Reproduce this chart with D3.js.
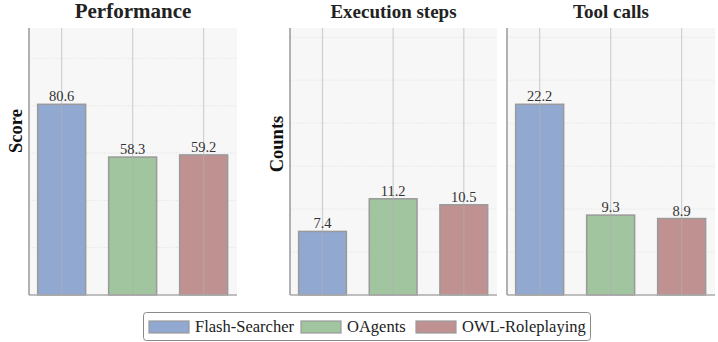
<!DOCTYPE html>
<html>
<head>
<meta charset="utf-8">
<script src="https://cdn.jsdelivr.net/npm/d3@7"></script>
<style>
    body { margin: 0; background: #fff; }
    svg { display: block; font-family: "Liberation Serif", "DejaVu Serif", serif; }
</style>
</head>
<body>
<svg id="chart" width="718" height="342"></svg>
<script>
    // data
    const agents = ['Flash-Searcher', 'OAgents', 'OWL-Roleplaying'];
    const colors = ['#91a8d1', '#a0c59f', '#c09191'];
    const panelTitles = ['Performance', 'Execution steps', 'Tool calls'];
    const yLabels = ['Score', 'Counts', null];
    const performance = [80.6, 58.3, 59.2];
    const execSteps = [7.4, 11.2, 10.5];
    const toolCalls = [22.2, 9.3, 8.9];
    const tickSteps = [20, 5, 5];

(function () {
    const series = [performance, execSteps, toolCalls];
    // execution steps and tool calls share one y axis
    const countsMax = d3.max(execSteps.concat(toolCalls)) * 1.4;
    const yMaxes = [d3.max(performance) * 1.4, countsMax, countsMax];

    const svg = d3.select('#chart');
    const plotTop = 28, plotBottom = 295;
    // left / right edge of every panel
    const panels = [[29, 237], [290, 497], [507, 715]];
    const titleSize = [21, 19, 19];
    const yLabelPos = [[16, 131], [277, 144]];

    series.forEach(function (values, p) {
        let x0 = panels[p][0], x1 = panels[p][1];
        let yMax = yMaxes[p];

        let x = d3.scaleLinear().domain([-0.46, 2.47]).range([x0, x1]);
        let y = d3.scaleLinear().domain([0, yMax]).range([plotBottom, plotTop]);

        let g = svg.append('g');

        g.append('rect')
            .attr('x', x0).attr('y', plotTop)
            .attr('width', x1 - x0).attr('height', plotBottom - plotTop)
            .attr('fill', '#f7f7f7');

        // dotted horizontal grid
        let ticks = d3.range(tickSteps[p], yMax, tickSteps[p]);
        g.selectAll('.hgrid')
            .data(ticks)
            .enter()
            .append('line')
            .attr('x1', x0).attr('x2', x1)
            .attr('y1', function (d) { return y(d); })
            .attr('y2', function (d) { return y(d); })
            .attr('stroke', '#e2e2e2')
            .attr('stroke-width', 0.8)
            .attr('stroke-dasharray', '1.5,1.5');

        let bw = 0.676 * (x(1) - x(0));

        g.selectAll('.bar')
            .data(values)
            .enter()
            .append('rect')
            .attr('x', function (d, i) { return x(i) - bw / 2; })
            .attr('y', function (d) { return y(d); })
            .attr('width', bw)
            .attr('height', function (d) { return plotBottom - y(d); })
            .attr('fill', function (d, i) { return colors[i]; })
            .attr('stroke', '#9a9a9a')
            .attr('stroke-width', 1.5);

        // vertical grid drawn over bars, semi transparent
        g.selectAll('.vgrid')
            .data(values)
            .enter()
            .append('line')
            .attr('x1', function (d, i) { return x(i); })
            .attr('x2', function (d, i) { return x(i); })
            .attr('y1', plotTop).attr('y2', plotBottom)
            .attr('stroke', '#b0b0b0')
            .attr('stroke-opacity', 0.55)
            .attr('stroke-width', 1.2);

        g.selectAll('.val')
            .data(values)
            .enter()
            .append('text')
            .attr('x', function (d, i) { return x(i); })
            .attr('y', function (d) { return y(d) - 3; })
            .attr('text-anchor', 'middle')
            .attr('font-size', 14.5)
            .attr('fill', '#333')
            .text(function (d) { return d.toFixed(1); });

        // spines
        g.append('line')
            .attr('x1', x0).attr('x2', x0).attr('y1', plotTop).attr('y2', plotBottom)
            .attr('stroke', '#999').attr('stroke-width', 1.5);
        g.append('line')
            .attr('x1', x0).attr('x2', x1).attr('y1', plotBottom).attr('y2', plotBottom)
            .attr('stroke', '#aaa').attr('stroke-width', 1.5);

        g.append('text')
            .attr('x', (x0 + x1) / 2)
            .attr('y', 18)
            .attr('text-anchor', 'middle')
            .attr('font-size', titleSize[p])
            .attr('font-weight', 'bold')
            .attr('fill', '#222')
            .text(panelTitles[p]);

        if (yLabels[p]) {
            g.append('text')
                .attr('transform', 'translate(' + (yLabelPos[p][0] + 6) + ',' + yLabelPos[p][1] + ') rotate(-90)')
                .attr('text-anchor', 'middle')
                .attr('font-size', 18.5)
                .attr('font-weight', 'bold')
                .attr('fill', '#111')
                .text(yLabels[p]);
        }
    });

    // legend
    let legend = svg.append('g');
    legend.append('rect')
        .attr('x', 143.5).attr('y', 312.5)
        .attr('width', 447).attr('height', 28)
        .attr('rx', 3)
        .attr('fill', '#fff')
        .attr('stroke', '#8a8a8a')
        .attr('stroke-width', 1);

    const swatchX = [149, 301, 416];
    let items = legend.selectAll('.item')
        .data(agents)
        .enter()
        .append('g');
    items.append('rect')
        .attr('x', function (d, i) { return swatchX[i]; })
        .attr('y', 321)
        .attr('width', 40).attr('height', 12)
        .attr('fill', function (d, i) { return colors[i]; })
        .attr('stroke', '#9a9a9a')
        .attr('stroke-width', 1.2);
    items.append('text')
        .attr('x', function (d, i) { return swatchX[i] + 46; })
        .attr('y', 332)
        .attr('font-size', 16.5)
        .attr('fill', '#222')
        .text(function (d) { return d; });
})();
</script>
</body>
</html>
